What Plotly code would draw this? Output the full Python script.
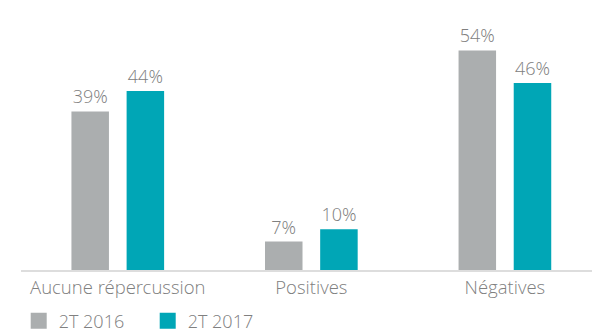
import plotly.graph_objects as go

categories = ["Aucune répercussion", "Positives", "Négatives"]
series_names = ["2T 2016", "2T 2017"]
values_2016 = [39, 7, 54]
values_2017 = [44, 10, 46]
colors = ["#abaeaf", "#00a6b6"]

fig = go.Figure()
for name, vals, col in zip(series_names, [values_2016, values_2017], colors):
    fig.add_trace(go.Bar(
        x=categories, y=vals, name=name, marker=dict(color=col, line=dict(width=0)),
        text=[f"{v}%" for v in vals], textposition="outside",
        textfont=dict(family="Open Sans Light, Open Sans", size=18, color="#808080", weight=300),
        cliponaxis=False, showlegend=False,
    ))
for name, col in zip(series_names, colors):
    fig.add_trace(go.Scatter(
        x=[None], y=[None], mode="markers", name=name,
        marker=dict(symbol="square", size=18, color=col),
    ))

fig.update_layout(
    width=592, height=332,
    margin=dict(l=21, r=0, t=26, b=62, autoexpand=False),
    paper_bgcolor="white", plot_bgcolor="white",
    barmode="group", bargap=0.43, bargroupgap=0.32,
    font=dict(family="Open Sans Light, Open Sans", size=18, color="#808080", weight=300),
    xaxis=dict(range=[-0.5, 2.45], showline=True, linecolor="#dddddd", linewidth=2,
               ticks="", showgrid=False, tickfont=dict(size=18.5, color="#808080", weight=300)),
    yaxis=dict(range=[0, 60], visible=False),
    legend=dict(orientation="h", x=0.0316, xanchor="left", xref="container",
                y=0.033, yanchor="middle", yref="container",
                font=dict(size=18, color="#808080", weight=300),
                itemsizing="trace", entrywidth=84, entrywidthmode="pixels"),
    showlegend=True,
)
fig.write_html("out.html")
